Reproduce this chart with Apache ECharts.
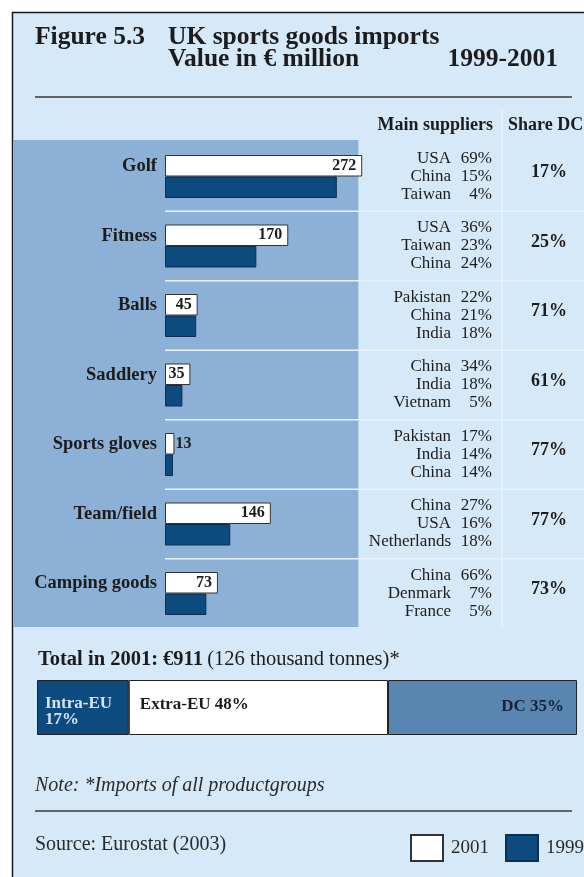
<!DOCTYPE html>
<html>
<head>
<meta charset="utf-8">
<script src="https://cdn.jsdelivr.net/npm/echarts@6/dist/echarts.min.js"></script>
<style>
  html, body { margin: 0; padding: 0; background: #ffffff; }
  #chart { width: 584px; height: 877px; }
</style>
</head>
<body>
<div id="chart"></div>
<script>
// Product groups and import values (EUR million)
const categories = ['Golf', 'Fitness', 'Balls', 'Saddlery', 'Sports gloves', 'Team/field', 'Camping goods'];
const imports2001 = [272, 170, 45, 35, 13, 146, 73];
const imports1999 = [237, 126, 43, 24, 11, 90, 57];

// Main supplying countries per product group, with their shares
const supplierNames = [
  ['USA', 'China', 'Taiwan'],
  ['USA', 'Taiwan', 'China'],
  ['Pakistan', 'China', 'India'],
  ['China', 'India', 'Vietnam'],
  ['Pakistan', 'India', 'China'],
  ['China', 'USA', 'Netherlands'],
  ['China', 'Denmark', 'France']
];
const supplierShares = [
  ['69%', '15%', '4%'],
  ['36%', '23%', '24%'],
  ['22%', '21%', '18%'],
  ['34%', '18%', '5%'],
  ['17%', '14%', '14%'],
  ['27%', '16%', '18%'],
  ['66%', '7%', '5%']
];
const shareDC = ['17%', '25%', '71%', '61%', '77%', '77%', '73%'];

// Total 2001 imports split by origin (%)
const originNames = ['Intra-EU', 'Extra-EU', 'DC'];
const originShares = [17, 48, 35];

const legendNames = ['2001', '1999'];

const SERIF = '"Liberation Serif", "Times New Roman", serif';
const INK = '#1c1c1c';
const NAVY = '#0d4a7d';
const PANEL = '#8db1d6';
const PAGE = '#d6e9f9';
const STEEL = '#5985b1';
const RULE_LIGHT = '#e6f2fc';

const chart = echarts.init(document.getElementById('chart'), null, { renderer: 'canvas' });

function txt(id, x, y, text, opts) {
  return {
    type: 'text', id: id, x: x, y: y, z: 5,
    style: Object.assign({
      text: text, fill: INK, fontFamily: SERIF, fontSize: 17,
      align: 'left', verticalAlign: 'middle'
    }, opts || {})
  };
}

const staticGraphics = [
  // page frame
  { type: 'rect', id: 'frame', z: 0, shape: { x: 12.5, y: 12.5, width: 600, height: 900 },
    style: { fill: PAGE, stroke: '#1a1a1a', lineWidth: 1.5 } },
  // medium-blue panel behind the bars
  { type: 'rect', id: 'panel', z: 1, shape: { x: 13.3, y: 140, width: 345, height: 487 },
    style: { fill: PANEL } },
  // column divider of the supplier table
  { type: 'line', id: 'vdiv', z: 2, shape: { x1: 502, y1: 110, x2: 502, y2: 627 },
    style: { stroke: RULE_LIGHT, lineWidth: 1.5 } },
  // title block
  txt('t1', 35, 37, 'Figure 5.3', { fontSize: 25.5, fontWeight: 'bold' }),
  txt('t2', 168, 37, 'UK sports goods imports', { fontSize: 25.5, fontWeight: 'bold' }),
  txt('t3', 168, 59.5, 'Value in € million', { fontSize: 25.5, fontWeight: 'bold' }),
  txt('t4', 558, 59.5, '1999-2001', { fontSize: 25.5, fontWeight: 'bold', align: 'right' }),
  { type: 'line', id: 'rule1', z: 2, shape: { x1: 35, y1: 97, x2: 572, y2: 97 },
    style: { stroke: '#3a3a3a', lineWidth: 1.3 } },
  // table headers
  txt('h1', 493, 125, 'Main suppliers', { fontSize: 18, fontWeight: 'bold', align: 'right' }),
  txt('h2', 508, 125, 'Share DC', { fontSize: 18, fontWeight: 'bold' }),
  // total line
  txt('tot', 38, 660, '{b|Total in 2001: €911} {n|(126 thousand tonnes)*}', {
    rich: {
      b: { fontFamily: SERIF, fontSize: 20.5, fontWeight: 'bold', fill: INK },
      n: { fontFamily: SERIF, fontSize: 20.5, fill: INK }
    }
  }),
  // footnote and source
  txt('note', 35, 786, 'Note: *Imports of all productgroups', { fontSize: 20, fontStyle: 'italic', fill: '#2a2a2a' }),
  { type: 'line', id: 'rule2', z: 2, shape: { x1: 35, y1: 811, x2: 572, y2: 811 },
    style: { stroke: '#3a3a3a', lineWidth: 1.3 } },
  txt('src', 35, 845, 'Source: Eurostat (2003)', { fontSize: 20, fill: '#2a2a2a' })
];

const hiddenAxisParts = {
  axisLine: { show: false }, axisTick: { show: false }, splitLine: { show: false }
};

const option = {
  animation: false,
  backgroundColor: '#ffffff',
  textStyle: { fontFamily: SERIF },
  legend: {
    data: legendNames,
    left: 410, top: 834, width: 300, padding: 0,
    icon: 'rect',
    itemWidth: 32, itemHeight: 26, itemGap: 16,
    textStyle: { fontFamily: SERIF, fontSize: 19, color: '#2a2a2a', padding: [0, 0, 0, 3] }
  },
  grid: [
    { left: 165, right: 201.5, top: 141.75, height: 486.5 },
    { left: 37, width: 540, top: 680, height: 55 }
  ],
  xAxis: [
    { type: 'value', gridIndex: 0, min: 0, max: 300, show: false },
    { type: 'value', gridIndex: 1, min: 0, max: 100, show: false }
  ],
  yAxis: [
    Object.assign({ // product group names, level with the 2001 bar
      type: 'category', gridIndex: 0, data: categories, inverse: true, z: 10,
      axisLabel: {
        interval: 0, margin: 8, fontFamily: SERIF, color: INK,
        fontSize: 18.5, fontWeight: 'bold', verticalAlign: 'bottom', lineHeight: 20
      }
    }, hiddenAxisParts),
    Object.assign({ // main suppliers column
      type: 'category', gridIndex: 0, data: categories, inverse: true, z: 10,
      position: 'left', offset: -327,
      axisLabel: {
        interval: 0, margin: 0,
        formatter: function (v, i) {
          return supplierNames[i].map(function (n, k) {
            return '{n|' + n + '}{p|' + supplierShares[i][k] + '}';
          }).join('\n');
        },
        rich: {
          n: { fontFamily: SERIF, fontSize: 17, lineHeight: 18, color: INK, width: 100, align: 'right' },
          p: { fontFamily: SERIF, fontSize: 17, lineHeight: 18, color: INK, width: 41, align: 'right' }
        }
      }
    }, hiddenAxisParts),
    Object.assign({ // share of developing countries column
      type: 'category', gridIndex: 0, data: categories, inverse: true, z: 10,
      position: 'left', offset: -384,
      axisLabel: {
        interval: 0, margin: 0, align: 'center', fontFamily: SERIF, color: INK,
        fontSize: 18, fontWeight: 'bold', verticalAlign: 'bottom', lineHeight: 8,
        formatter: function (v, i) { return shareDC[i]; }
      }
    }, hiddenAxisParts),
    { type: 'category', gridIndex: 1, data: ['2001'], show: false }
  ],
  series: [
    {
      name: '2001', type: 'bar', xAxisIndex: 0, yAxisIndex: 0, z: 10,
      barWidth: 21.5, barGap: '0%',
      itemStyle: { color: '#ffffff', borderColor: '#333333', borderWidth: 1 },
      label: {
        show: true, position: 'insideRight', distance: 6,
        fontFamily: SERIF, fontSize: 16, fontWeight: 'bold', color: INK
      },
      data: imports2001.map(function (v) {
        return v < 20 ? { value: v, label: { position: 'right', distance: 1 } } : v;
      })
    },
    {
      name: '1999', type: 'bar', xAxisIndex: 0, yAxisIndex: 0, z: 10,
      barWidth: 21.5, barGap: '0%',
      itemStyle: { color: NAVY, borderColor: '#0a2f52', borderWidth: 1 },
      data: imports1999
    },
    {
      name: originNames[0], type: 'bar', stack: 'origin', xAxisIndex: 1, yAxisIndex: 3, z: 10,
      barWidth: 55,
      itemStyle: { color: NAVY, borderColor: '#222', borderWidth: 1 },
      label: {
        show: true, position: 'insideTopLeft', distance: 8, padding: [8, 0, 0, 0],
        fontFamily: SERIF, fontSize: 17, fontWeight: 'bold', lineHeight: 16, color: '#d4e4f4',
        formatter: function (p) { return p.seriesName + '\n' + p.value + '%'; }
      },
      data: [originShares[0]]
    },
    {
      name: originNames[1], type: 'bar', stack: 'origin', xAxisIndex: 1, yAxisIndex: 3, z: 10,
      barWidth: 55,
      itemStyle: { color: '#ffffff', borderColor: '#222', borderWidth: 1 },
      label: {
        show: true, position: 'insideTopLeft', distance: 11, padding: [5, 0, 0, 0],
        fontFamily: SERIF, fontSize: 17, fontWeight: 'bold', color: INK,
        formatter: function (p) { return p.seriesName + ' ' + p.value + '%'; }
      },
      data: [originShares[1]]
    },
    {
      name: originNames[2], type: 'bar', stack: 'origin', xAxisIndex: 1, yAxisIndex: 3, z: 10,
      barWidth: 55,
      itemStyle: { color: STEEL, borderColor: '#222', borderWidth: 1 },
      label: {
        show: true, position: 'insideTopRight', distance: 13, padding: [5, 0, 0, 0],
        fontFamily: SERIF, fontSize: 17, fontWeight: 'bold', color: '#15243a',
        formatter: function (p) { return p.seriesName + ' ' + p.value + '%'; }
      },
      data: [originShares[2]]
    }
  ],
  graphic: { elements: staticGraphics }
};

chart.setOption(option);

// Row separators between product groups, placed at the category band edges
const separators = [];
for (let i = 1; i < categories.length; i++) {
  const yPrev = chart.convertToPixel({ yAxisIndex: 0 }, categories[i - 1]);
  const yNext = chart.convertToPixel({ yAxisIndex: 0 }, categories[i]);
  const y = (yPrev + yNext) / 2;
  const x0 = chart.convertToPixel({ xAxisIndex: 0 }, 0);
  separators.push({
    type: 'line', id: 'sep' + i, z: 2,
    shape: { x1: x0, y1: y, x2: 584, y2: y },
    style: { stroke: RULE_LIGHT, lineWidth: 1.6 }
  });
}
chart.setOption({ graphic: { elements: staticGraphics.concat(separators) } });
</script>
</body>
</html>
